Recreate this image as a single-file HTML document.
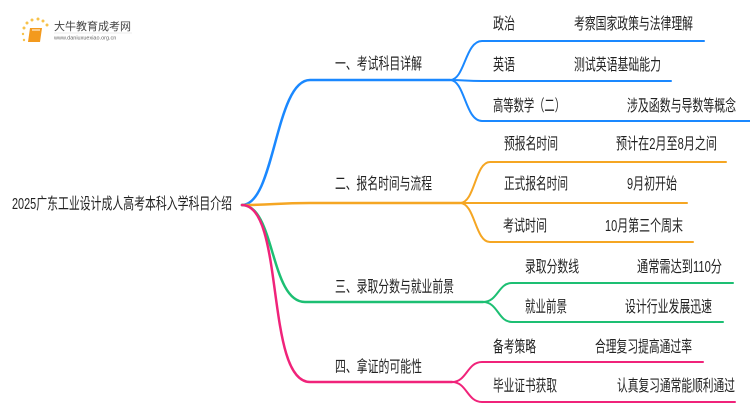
<!DOCTYPE html>
<html><head><meta charset="utf-8"><style>
html,body{margin:0;padding:0;background:#fff;}
svg{display:block;font-family:"Liberation Sans","Noto Sans CJK SC",sans-serif;}
text{font-size:16px;fill:#222;dominant-baseline:middle;}
</style></head><body>
<svg width="750" height="410" viewBox="0 0 750 410" xmlns="http://www.w3.org/2000/svg">
<g>
<circle cx="24" cy="28" r="1.5" fill="#f7c24a"/><circle cx="27" cy="23" r="1.5" fill="#f7c24a"/><circle cx="32" cy="20" r="1.5" fill="#f7c24a"/><circle cx="38" cy="19" r="1.5" fill="#f7c24a"/><circle cx="43" cy="21" r="1.5" fill="#f7c24a"/><circle cx="47" cy="25" r="1.5" fill="#f7c24a"/><circle cx="23" cy="34" r="1.2" fill="#f7c24a"/><circle cx="24" cy="40" r="1.2" fill="#f7c24a"/>
<path d="M30 28 L42 28 L40 42 L28 42 Z" fill="#f39a1e"/>
<path d="M32 30 L40 30" stroke="#fff" stroke-width="1"/>
<text x="54" y="27" style="font-size:11px;fill:#444">大牛教育成考网</text>
<text x="54" y="38" style="font-size:5.5px;fill:#666">www.daniuxuexiao.org.cn</text>
<line x1="54" y1="33" x2="132" y2="33" stroke="#ddd" stroke-width="0.5"/>
</g>
<text x="12" y="205" textLength="220" lengthAdjust="spacingAndGlyphs">2025广东工业设计成人高考本科入学科目介绍</text>
<g fill="none" stroke-linecap="round">
<g stroke="#1a88ff">
<path d="M242 205 C 275 205, 275 80, 310 80 L 450 80" stroke-width="2.5"/>
<path d="M450 80 C 465 80, 465 41, 482 41 L 704 41" stroke-width="2"/>
<path d="M450 80 C 465 80, 465 81, 482 81 L 671 81" stroke-width="2"/>
<path d="M450 80 C 465 80, 465 121, 482 121 L 750 121" stroke-width="2"/>
</g>
<g stroke="#f5a623">
<path d="M242 205 C 275 205, 275 203, 310 203 L 460 203" stroke-width="2.5"/>
<path d="M460 203 C 475 203, 475 162, 490 162 L 726 162" stroke-width="2"/>
<path d="M460 203 L 687 203" stroke-width="2"/>
<path d="M460 203 C 475 203, 475 242, 490 242 L 693 242" stroke-width="2"/>
</g>
<g stroke="#1dbf73">
<path d="M242 205 C 275 205, 270 302, 305 302 L 483 302" stroke-width="2.5"/>
<path d="M483 302 C 498 302, 498 283, 512 283 L 733 283" stroke-width="2"/>
<path d="M483 302 C 498 302, 498 322, 512 322 L 723 322" stroke-width="2"/>
</g>
<g stroke="#f0237a">
<path d="M242 205 C 285 205, 265 382, 310 382 L 452 382" stroke-width="2.5"/>
<path d="M452 382 C 467 382, 467 362, 482 362 L 703 362" stroke-width="2"/>
<path d="M452 382 C 467 382, 467 402, 482 402 L 735 402" stroke-width="2"/>
</g>
</g>
<g lengthAdjust="spacingAndGlyphs">
<text x="335" y="65" textLength="87" lengthAdjust="spacingAndGlyphs">一、考试科目详解</text>
<text x="335" y="185" textLength="97" lengthAdjust="spacingAndGlyphs">二、报名时间与流程</text>
<text x="335" y="288" textLength="119" lengthAdjust="spacingAndGlyphs">三、录取分数与就业前景</text>
<text x="335" y="368" textLength="87" lengthAdjust="spacingAndGlyphs">四、拿证的可能性</text>
<text x="493" y="25" textLength="22" lengthAdjust="spacingAndGlyphs">政治</text><text x="574" y="25" textLength="119" lengthAdjust="spacingAndGlyphs">考察国家政策与法律理解</text>
<text x="493" y="66" textLength="22" lengthAdjust="spacingAndGlyphs">英语</text><text x="574" y="66" textLength="87" lengthAdjust="spacingAndGlyphs">测试英语基础能力</text>
<text x="493" y="107" textLength="72" lengthAdjust="spacingAndGlyphs">高等数学（二）</text><text x="627" y="107" textLength="109" lengthAdjust="spacingAndGlyphs">涉及函数与导数等概念</text>
<text x="504" y="145" textLength="54" lengthAdjust="spacingAndGlyphs">预报名时间</text><text x="616" y="145" textLength="101" lengthAdjust="spacingAndGlyphs">预计在2月至8月之间</text>
<text x="504" y="185" textLength="64" lengthAdjust="spacingAndGlyphs">正式报名时间</text><text x="627" y="185" textLength="50" lengthAdjust="spacingAndGlyphs">9月初开始</text>
<text x="503" y="227" textLength="44" lengthAdjust="spacingAndGlyphs">考试时间</text><text x="605" y="227" textLength="78" lengthAdjust="spacingAndGlyphs">10月第三个周末</text>
<text x="525" y="268" textLength="54" lengthAdjust="spacingAndGlyphs">录取分数线</text><text x="637" y="268" textLength="85" lengthAdjust="spacingAndGlyphs">通常需达到110分</text>
<text x="525" y="308" textLength="42" lengthAdjust="spacingAndGlyphs">就业前景</text><text x="625" y="308" textLength="87" lengthAdjust="spacingAndGlyphs">设计行业发展迅速</text>
<text x="493" y="348" textLength="43" lengthAdjust="spacingAndGlyphs">备考策略</text><text x="595" y="348" textLength="97" lengthAdjust="spacingAndGlyphs">合理复习提高通过率</text>
<text x="493" y="387" textLength="64" lengthAdjust="spacingAndGlyphs">毕业证书获取</text><text x="617" y="387" textLength="118" lengthAdjust="spacingAndGlyphs">认真复习通常能顺利通过</text>
</g>
</svg>
</body></html>
